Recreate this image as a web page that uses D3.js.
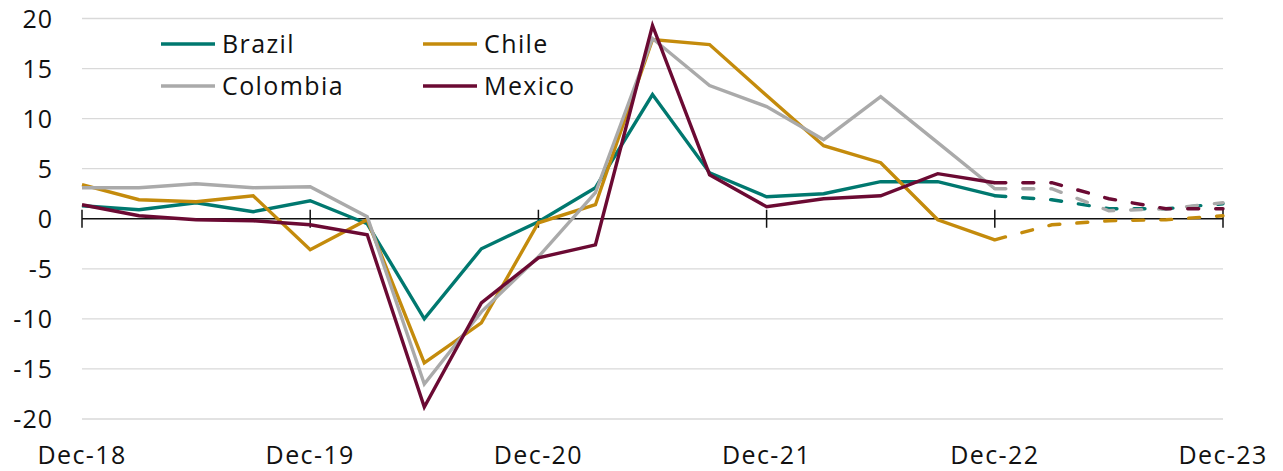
<!DOCTYPE html>
<html>
<head>
<meta charset="utf-8">
<script src="https://cdn.jsdelivr.net/npm/d3@7"></script>
<style>
  body { margin: 0; background: #fff; }
  svg text { font-family: "Open Sans", sans-serif; fill: #111; }
</style>
</head>
<body>
<div id="chart"></div>
<script>
// quarterly, Dec-18 .. Dec-23 (last four quarters are forecasts, dashed)
var quarters = ["Dec-18","Mar-19","Jun-19","Sep-19","Dec-19","Mar-20","Jun-20","Sep-20","Dec-20",
                "Mar-21","Jun-21","Sep-21","Dec-21","Mar-22","Jun-22","Sep-22","Dec-22",
                "Mar-23","Jun-23","Sep-23","Dec-23"];
var forecastStart = 16;

var brazil   = [1.3, 0.9, 1.6, 0.7, 1.8, -0.5, -10.0, -3.0, -0.3, 3.1, 12.4, 4.6, 2.2, 2.5, 3.7, 3.7, 2.3, 1.9, 1.0, 1.0, 1.5];
var chile    = [3.4, 1.9, 1.7, 2.3, -3.1, -0.1, -14.4, -10.4, -0.4, 1.4, 17.9, 17.4, 12.3, 7.3, 5.6, -0.1, -2.1, -0.6, -0.2, -0.1, 0.3];
var colombia = [3.1, 3.1, 3.5, 3.1, 3.2, 0.2, -16.5, -9.3, -3.8, 2.6, 18.0, 13.3, 11.2, 7.9, 12.2, 7.6, 3.0, 3.0, 0.8, 1.0, 1.6];
var mexico   = [1.4, 0.3, -0.1, -0.2, -0.6, -1.6, -18.8, -8.4, -3.9, -2.6, 19.3, 4.4, 1.2, 2.0, 2.3, 4.5, 3.6, 3.6, 2.0, 1.0, 1.0];

var seriesNames = ["Brazil", "Chile", "Colombia", "Mexico"];
var seriesValues = [brazil, chile, colombia, mexico];
var colors = ["#00786f", "#c48b0c", "#aaaaaa", "#6b0a33"];

var yTicks = [20, 15, 10, 5, 0, -5, -10, -15, -20];
var xTickLabels = ["Dec-18", "Dec-19", "Dec-20", "Dec-21", "Dec-22", "Dec-23"];

var width = 1283, height = 471;

var svg = d3.select("#chart").append("svg")
    .attr("width", width)
    .attr("height", height);

var x = d3.scaleLinear()
    .domain([0, quarters.length - 1])
    .range([82, 1223]);

var y = d3.scaleLinear()
    .domain([-20, 20])
    .range([419, 18.5]);

// gridlines
svg.append("g")
    .selectAll("line")
    .data(yTicks.filter(function (d) { return d !== 0; }))
    .enter()
    .append("line")
    .attr("x1", x(0))
    .attr("x2", x(quarters.length - 1))
    .attr("y1", function (d) { return y(d); })
    .attr("y2", function (d) { return y(d); })
    .attr("stroke", "#d9d9d9")
    .attr("stroke-width", 1.3);

// y labels
svg.append("g")
    .selectAll("text")
    .data(yTicks)
    .enter()
    .append("text")
    .attr("x", 53)
    .attr("y", function (d) { return y(d); })
    .attr("dy", "0.36em")
    .attr("text-anchor", "end")
    .style("font-size", "25px")
    .style("letter-spacing", "1px")
    .text(function (d) { return d; });

// zero axis with yearly ticks
svg.append("line")
    .attr("x1", x(0))
    .attr("x2", x(quarters.length - 1))
    .attr("y1", y(0))
    .attr("y2", y(0))
    .attr("stroke", "#111")
    .attr("stroke-width", 1.5);

var yearIdx = xTickLabels.map(function (lab) { return quarters.indexOf(lab); });

svg.append("g")
    .selectAll("line")
    .data(yearIdx)
    .enter()
    .append("line")
    .attr("x1", function (d) { return x(d); })
    .attr("x2", function (d) { return x(d); })
    .attr("y1", y(0) - 9)
    .attr("y2", y(0) + 9)
    .attr("stroke", "#111")
    .attr("stroke-width", 1.5);

svg.append("g")
    .selectAll("text")
    .data(yearIdx)
    .enter()
    .append("text")
    .attr("x", function (d) { return x(d); })
    .attr("y", 464)
    .attr("text-anchor", "middle")
    .style("font-size", "25px")
    .style("letter-spacing", "1.4px")
    .text(function (d, i) { return xTickLabels[i]; });

// lines
var line = d3.line()
    .x(function (d) { return x(d.i); })
    .y(function (d) { return y(d.v); });

seriesValues.forEach(function (vals, s) {
    var pts = vals.map(function (v, i) { return {i: i, v: v}; });
    svg.append("path")
        .datum(pts.slice(0, forecastStart + 1))
        .attr("fill", "none")
        .attr("stroke", colors[s])
        .attr("stroke-width", 3.4)
        .attr("stroke-linejoin", "miter")
        .attr("d", line);
    svg.append("path")
        .datum(pts.slice(forecastStart))
        .attr("fill", "none")
        .attr("stroke", colors[s])
        .attr("stroke-width", 3.4)
        .attr("stroke-linecap", "round")
        .attr("stroke-dasharray", "11,17")
        .attr("d", line);
});

// legend
var legendPos = [[161, 44], [423, 44], [161, 86], [423, 86]];
seriesNames.forEach(function (name, s) {
    var p = legendPos[s];
    svg.append("line")
        .attr("x1", p[0])
        .attr("x2", p[0] + 54)
        .attr("y1", p[1])
        .attr("y2", p[1])
        .attr("stroke", colors[s])
        .attr("stroke-width", 3.4);
    svg.append("text")
        .attr("x", p[0] + 61)
        .attr("y", p[1])
        .attr("dy", "0.36em")
        .style("font-size", "25px")
        .style("letter-spacing", "1.4px")
        .text(name);
});
</script>
</body>
</html>
